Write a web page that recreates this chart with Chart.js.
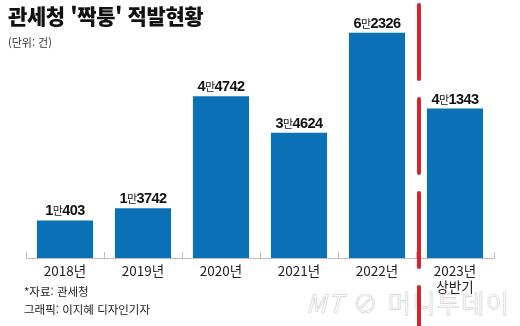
<!DOCTYPE html>
<html lang="ko">
<head>
<meta charset="utf-8">
<script src="https://cdn.jsdelivr.net/npm/chart.js@4"></script>
<style>
  html, body { margin: 0; padding: 0; background: #fff; }
  #wrap { position: relative; width: 520px; height: 326px; overflow: hidden; }
  #wrap canvas { position: absolute; left: 0; top: 0; }
  .txt { position: absolute; white-space: nowrap; font-family: 'Noto Sans CJK KR', sans-serif; }
  #title { left: 8px; top: 0px; font-size: 21px; font-weight: 900; color: #111; letter-spacing: -0.4px; }
  #unit { left: 8px; top: 34px; font-size: 11px; color: #333; }
  #src { left: 24px; top: 283px; font-size: 11.5px; color: #222; }
  #credit { left: 24px; top: 301px; font-size: 11.5px; color: #222; }
  #mark { left: 306px; top: 284px; font-size: 25px; color: transparent;
          -webkit-text-stroke: 0.7px #d4d4d4; letter-spacing: 1.5px; }
</style>
</head>
<body>
<div id="wrap">
  <div class="txt" id="mark"><i>MT</i> ⊘ 머니투데이</div>
  <canvas id="myChart" width="520" height="326"></canvas>
  <div class="txt" id="title">관세청 '짝퉁' 적발현황</div>
  <div class="txt" id="unit">(단위: 건)</div>
  <div class="txt" id="src">*자료: 관세청</div>
  <div class="txt" id="credit">그래픽: 이지혜 디자인기자</div>
</div>
<script>
const years = ['2018년', '2019년', '2020년', '2021년', '2022년', ['2023년', '상반기']];
const seizures = [10403, 13742, 44742, 34624, 62326, 41343];

const barColor = '#0b71b6';
const numFont = "bold 14.5px 'Liberation Sans', Arial, sans-serif";
const manFont = "11px 'Noto Sans CJK KR', sans-serif";

// "1만403" style labels: digits bold, 만 small and regular
const valueLabels = {
    id: 'valueLabels',
    afterDatasetsDraw(chart) {
        const ctx = chart.ctx;
        const meta = chart.getDatasetMeta(0);
        ctx.save();
        ctx.fillStyle = '#111';
        ctx.textBaseline = 'alphabetic';
        meta.data.forEach((bar, i) => {
            const v = chart.data.datasets[0].data[i];
            const parts = [
                [String(Math.floor(v / 10000)), numFont],
                ['만', manFont],
                [String(v % 10000), numFont]
            ];
            ctx.letterSpacing = '-0.6px';
            let total = 0;
            const widths = parts.map(([t, f]) => {
                ctx.font = f;
                const w = ctx.measureText(t).width;
                total += w;
                return w;
            });
            let x = bar.x - total / 2;
            const y = bar.y - 5;
            parts.forEach(([t, f], k) => {
                ctx.font = f;
                ctx.textAlign = 'left';
                ctx.fillText(t, x, y);
                x += widths[k];
            });
        });
        ctx.restore();
    }
};

// short upward ticks between categories + red dashed divider before 2023
const axisDecor = {
    id: 'axisDecor',
    afterDraw(chart) {
        const ctx = chart.ctx;
        const xs = chart.scales.x;
        const area = chart.chartArea;
        const step = xs.getPixelForValue(1) - xs.getPixelForValue(0);
        ctx.save();
        ctx.strokeStyle = '#bdbdbd';
        ctx.lineWidth = 1;
        for (let i = 0; i <= years.length; i++) {
            const x = Math.round(xs.getPixelForValue(0) - step / 2 + i * step) + 0.5;
            ctx.beginPath();
            ctx.moveTo(x, area.bottom - 6);
            ctx.lineTo(x, area.bottom);
            ctx.stroke();
        }
        const dx = (xs.getPixelForValue(4) + xs.getPixelForValue(5)) / 2 + 3;
        ctx.strokeStyle = '#d8232e';
        ctx.lineWidth = 4;
        ctx.lineCap = 'round';
        ctx.setLineDash([74, 20]);
        ctx.beginPath();
        ctx.moveTo(dx, 5);
        ctx.lineTo(dx, chart.height + 10);
        ctx.stroke();
        ctx.restore();
    }
};

const ctx = document.getElementById('myChart').getContext('2d');

const chart = new Chart(ctx, {
    type: 'bar',
    data: {
        labels: years,
        datasets: [
            {
                data: seizures,
                backgroundColor: barColor,
                barPercentage: 0.72,
                categoryPercentage: 1
            }
        ]
    },
    options: {
        responsive: false,
        animation: false,
        layout: { padding: { left: 26, right: 26, top: 5, bottom: 0 } },
        plugins: {
            legend: { display: false },
            tooltip: { enabled: false }
        },
        scales: {
            x: {
                grid: { display: false, drawTicks: false },
                border: { display: true, color: '#bdbdbd', width: 1 },
                ticks: {
                    color: '#222',
                    padding: 5,
                    maxRotation: 0,
                    font: { family: "'Noto Sans CJK KR', sans-serif", size: 13.5 }
                },
                afterFit: (scale) => { scale.height = 68; }
            },
            y: {
                display: false,
                min: 0,
                max: 70000
            }
        }
    },
    plugins: [valueLabels, axisDecor]
});
</script>
</body>
</html>
